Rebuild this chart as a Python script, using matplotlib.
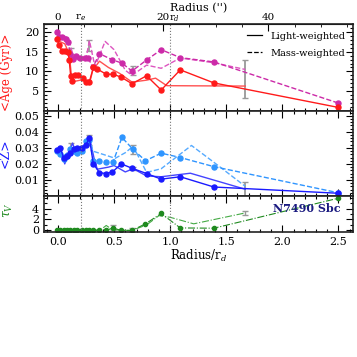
import matplotlib
matplotlib.use("Agg")
import matplotlib.pyplot as plt
from matplotlib.ticker import MultipleLocator, FixedLocator
from matplotlib.lines import Line2D

plt.rcParams['font.family'] = ['DejaVu Serif']
plt.rcParams['mathtext.fontset'] = 'dejavuserif'

# ---------------- data ----------------
# Age panel, light-weighted (markers)
age_lw_r = [-0.01, 0.01, 0.035, 0.065, 0.09, 0.10, 0.113, 0.128, 0.15, 0.175, 0.22, 0.25, 0.28,
            0.315, 0.35, 0.43, 0.49, 0.56, 0.66, 0.79, 0.92, 1.09, 1.39, 2.5]
age_lw = [18.3, 16.7, 15.2, 15.2, 15.0, 12.8, 8.9, 7.6, 9.2, 9.2, 8.4, 7.4, 7.4,
          11.0, 10.6, 9.3, 9.3, 8.6, 6.9, 8.9, 5.3, 10.4, 7.1, 0.9]
# Age panel, light-weighted (second profile, no markers)
age_lw2_r = [-0.01, 0.02, 0.06, 0.10, 0.12, 0.15, 0.20, 0.25, 0.29, 0.31, 0.37, 0.45, 0.55,
             0.66, 0.79, 0.87, 0.97, 1.67]
age_lw2 = [17.8, 17.5, 17.0, 14.5, 8.8, 7.5, 7.8, 7.6, 8.0, 10.3, 12.6, 11.0, 9.5,
           7.3, 7.8, 8.3, 6.4, 6.3]
# Age panel, mass-weighted (markers)
age_mw_r = [-0.01, 0.01, 0.04, 0.07, 0.09, 0.11, 0.13, 0.16, 0.20, 0.24, 0.27, 0.31, 0.37,
            0.48, 0.57, 0.66, 0.79, 0.92, 1.09, 1.39, 2.5]
age_mw = [20.0, 18.7, 18.7, 18.2, 17.5, 14.5, 13.2, 14.0, 13.4, 13.4, 13.4, 11.0, 14.5,
          13.0, 12.1, 10.1, 12.9, 15.5, 13.5, 12.4, 2.0]
# Age panel, mass-weighted (second profile)
age_mw2_r = [-0.01, 0.03, 0.07, 0.10, 0.12, 0.15, 0.20, 0.25, 0.28, 0.33, 0.42, 0.50, 0.60,
             0.66, 0.79, 0.92, 1.09, 1.39, 1.67]
age_mw2 = [19.5, 19.0, 18.8, 18.0, 15.5, 13.0, 13.0, 13.3, 17.8, 11.2, 17.6, 15.5, 10.3,
           9.0, 11.6, 10.8, 13.4, 12.2, 10.5]

# Z panel
z_lw_r = [-0.01, 0.02, 0.05, 0.08, 0.11, 0.14, 0.17, 0.21, 0.25, 0.28, 0.315, 0.37, 0.425,
          0.485, 0.565, 0.66, 0.79, 0.92, 1.09, 1.39, 2.5]
z_lw = [0.0285, 0.030, 0.024, 0.025, 0.027, 0.029, 0.030, 0.030, 0.032, 0.036, 0.020, 0.0146, 0.014,
        0.015, 0.020, 0.0173, 0.014, 0.0105, 0.012, 0.0056, 0.0017]
z_lw2_r = [-0.01, 0.03, 0.06, 0.10, 0.13, 0.16, 0.20, 0.25, 0.28, 0.32, 0.35, 0.45, 0.50,
           0.60, 0.67, 0.79, 0.92, 1.18, 1.67]
z_lw2 = [0.027, 0.028, 0.020, 0.027, 0.033, 0.027, 0.031, 0.031, 0.037, 0.024, 0.0167, 0.018, 0.019,
         0.015, 0.017, 0.0125, 0.012, 0.0142, 0.0042]
z_mw_r = [-0.01, 0.02, 0.05, 0.08, 0.11, 0.14, 0.17, 0.21, 0.25, 0.28, 0.315, 0.37, 0.43,
          0.49, 0.57, 0.67, 0.78, 0.92, 1.09, 1.39, 2.5]
z_mw = [0.028, 0.026, 0.023, 0.025, 0.029, 0.028, 0.027, 0.028, 0.034, 0.035, 0.022, 0.022, 0.021,
        0.021, 0.0365, 0.029, 0.022, 0.0267, 0.024, 0.0183, 0.002]
z_mw2_r = [-0.01, 0.05, 0.10, 0.15, 0.20, 0.25, 0.28, 0.31, 0.40, 0.51, 0.60, 0.67, 0.79,
           0.92, 1.19, 1.39, 1.67]
z_mw2 = [0.027, 0.025, 0.028, 0.030, 0.029, 0.033, 0.037, 0.028, 0.026, 0.0235, 0.027, 0.031, 0.0147,
         0.017, 0.0315, 0.021, 0.006]

# tau_V panel
tau_r = [-0.01, 0.02, 0.05, 0.08, 0.11, 0.14, 0.17, 0.21, 0.25, 0.28, 0.315, 0.37, 0.43,
         0.49, 0.56, 0.66, 0.78, 0.92, 1.09, 1.39, 2.5]
tau = [0, 0, 0, 0, 0, 0, 0, 0, 0, 0, 0, 0, 0,
       0.45, 0, 0, 1.2, 3.1, 0.45, 0.4, 5.9]
tau2_r = [-0.01, 0.10, 0.20, 0.30, 0.38, 0.43, 0.48, 0.55, 0.66, 0.79, 0.90, 1.00, 1.21, 1.67]
tau2 = [0, 0, 0, 0, 0.1, 0.9, 0.2, 0, 0, 1.0, 2.7, 2.4, 1.2, 3.2]

# error bars (gray)
age_err_r = [0.12, 0.28, 0.67, 1.67]
age_err_y = [15.1, 16.5, 10.3, 8.2]
age_err = [0.8, 1.4, 1.2, 4.8]
z_err_r = [0.12, 0.28, 0.67, 0.67, 1.67]
z_err_y = [0.0315, 0.035, 0.029, 0.017, 0.004]
z_err = [0.0015, 0.003, 0.003, 0.001, 0.0045]
tau_err_r = [0.49, 0.66, 1.67]
tau_err_y = [0.5, 0.1, 3.2]
tau_err = [0.5, 0.4, 0.4]

age_ticks = [5, 10, 15, 20]
z_ticks = [0.01, 0.02, 0.03, 0.04, 0.05]
z_ticklabels = ['0.01', '0.02', '0.03', '0.04', '0.05']
tau_ticks = [0, 2, 4]
arcsec_ticks = [0, 20, 40]

r_e = 0.205
r_d = 1.0
arcsec_per_rd = 21.33

# ---------------- figure ----------------
fig = plt.figure(figsize=(3.57, 3.57), dpi=100)
L, W = 0.1232, 0.8655
ax1 = fig.add_axes([L, 0.6891, W, 0.2437])
ax2 = fig.add_axes([L, 0.4510, W, 0.2381], sharex=ax1)
ax3 = fig.add_axes([L, 0.3501, W, 0.1008], sharex=ax1)

red = '#ff1a1a'
red2 = '#ff5050'
mag = '#cc2aa8'
mag2 = '#dd55c0'
blue = '#1a1aff'
blue2 = '#4444ff'
lblue = '#2f95ff'
lblue2 = '#55aaff'
green = '#1f8a1f'
gray = '#999999'

ms = 3.6
lw = 1.0
# age
ax1.errorbar(age_err_r, age_err_y, yerr=age_err, fmt='none', ecolor=gray, elinewidth=1.3, capsize=2)
ax1.plot(age_lw2_r, age_lw2, '-', color=red2, lw=lw)
ax1.plot(age_mw2_r, age_mw2, '--', color=mag2, lw=lw)
ax1.plot(age_mw_r, age_mw, '--', color=mag, lw=lw, marker='o', ms=ms, mec=mag)
ax1.plot(age_lw_r, age_lw, '-', color=red, lw=lw, marker='o', ms=ms, mec=red)
# Z
ax2.errorbar(z_err_r, z_err_y, yerr=z_err, fmt='none', ecolor=gray, elinewidth=1.3, capsize=2)
ax2.plot(z_lw2_r, z_lw2, '-', color=blue2, lw=lw)
ax2.plot(z_mw2_r, z_mw2, '--', color=lblue2, lw=lw)
ax2.plot(z_mw_r, z_mw, '--', color=lblue, lw=lw, marker='o', ms=ms, mec=lblue)
ax2.plot(z_lw_r, z_lw, '-', color=blue, lw=lw, marker='o', ms=ms, mec=blue)
# tau
ax3.errorbar(tau_err_r, tau_err_y, yerr=tau_err, fmt='none', ecolor=gray, elinewidth=1.0, capsize=2)
ax3.plot(tau2_r, tau2, '-.', color='#44aa44', lw=0.8)
ax3.plot(tau_r, tau, '-.', color=green, lw=0.8, marker='o', ms=3.0, mec=green)

for ax in (ax1, ax2, ax3):
    ax.axvline(r_e, color='#777777', ls=':', lw=0.8)
    ax.axvline(r_d, color='#777777', ls=':', lw=0.8)
    ax.set_xlim(-0.125, 2.63)
    ax.xaxis.set_major_locator(MultipleLocator(0.5))
    ax.xaxis.set_minor_locator(MultipleLocator(0.1))
    ax.tick_params(which='both', direction='in', right=True, labelsize=8, width=0.8)
    ax.tick_params(which='major', length=5)
    ax.tick_params(which='minor', length=2.5)
    for s in ax.spines.values():
        s.set_linewidth(1.2)
        s.set_color('#222222')

ax1.tick_params(which='both', top=False, labelbottom=False)
ax2.tick_params(which='both', top=True, labelbottom=False)
ax3.tick_params(which='both', top=True)

ax1.set_ylim(0, 22)
ax1.yaxis.set_major_locator(FixedLocator(age_ticks))
ax1.yaxis.set_minor_locator(MultipleLocator(1))
ax2.set_ylim(0, 0.053)
ax2.yaxis.set_minor_locator(MultipleLocator(0.002))
ax2.set_yticks(z_ticks)
ax2.set_yticklabels(z_ticklabels)
ax3.set_ylim(-0.3, 6.3)
ax3.yaxis.set_minor_locator(MultipleLocator(1))
ax3.set_yticks(tau_ticks)

# top arcsec axis
sec = ax1.secondary_xaxis('top', functions=(lambda r: r * arcsec_per_rd, lambda a: a / arcsec_per_rd))
sec.xaxis.set_major_locator(FixedLocator(arcsec_ticks))
sec.xaxis.set_minor_locator(FixedLocator(list(range(-5, 60, 5))))
sec.tick_params(which='both', direction='in', labelsize=7.5, pad=1.5)
sec.tick_params(which='major', length=5)
sec.tick_params(which='minor', length=2.5)
sec.set_xlabel("Radius ('')", fontsize=8, labelpad=1)
ax1.text(r_e, 1.01, r'$\mathrm{r}_e$', transform=ax1.get_xaxis_transform(),
         ha='center', va='bottom', fontsize=7.5)
ax1.text(0.99, 1.005, r'$\mathrm{r}_d$', transform=ax1.get_xaxis_transform(),
         ha='left', va='bottom', fontsize=7)

ax1.set_ylabel('<Age (Gyr)>', color=red, fontsize=8.5)
ax2.set_ylabel('<Z>', color=blue, fontsize=9)
ax3.set_ylabel(r'$\tau_V$', color=green, fontsize=9)
ax1.yaxis.set_label_coords(-0.1, 0.45)
ax2.yaxis.set_label_coords(-0.105, 0.5)
ax3.yaxis.set_label_coords(-0.095, 0.6)
ax3.set_xlabel(r'Radius/r$_d$', fontsize=8.5, labelpad=1)

handles = [Line2D([], [], color='black', ls='-', lw=0.9),
           Line2D([], [], color='black', ls='--', lw=0.9)]
ax1.legend(handles, ['Light-weighted', 'Mass-weighted'], loc='upper right', frameon=False,
           fontsize=7, handlelength=1.6, borderaxespad=0.4, labelspacing=0.8)

ax3.text(2.52, 4.0, 'N7490 Sbc', color='#1a1a80', fontsize=8, fontweight='bold',
         ha='right', va='center')

fig.savefig('out.png', dpi=100)
